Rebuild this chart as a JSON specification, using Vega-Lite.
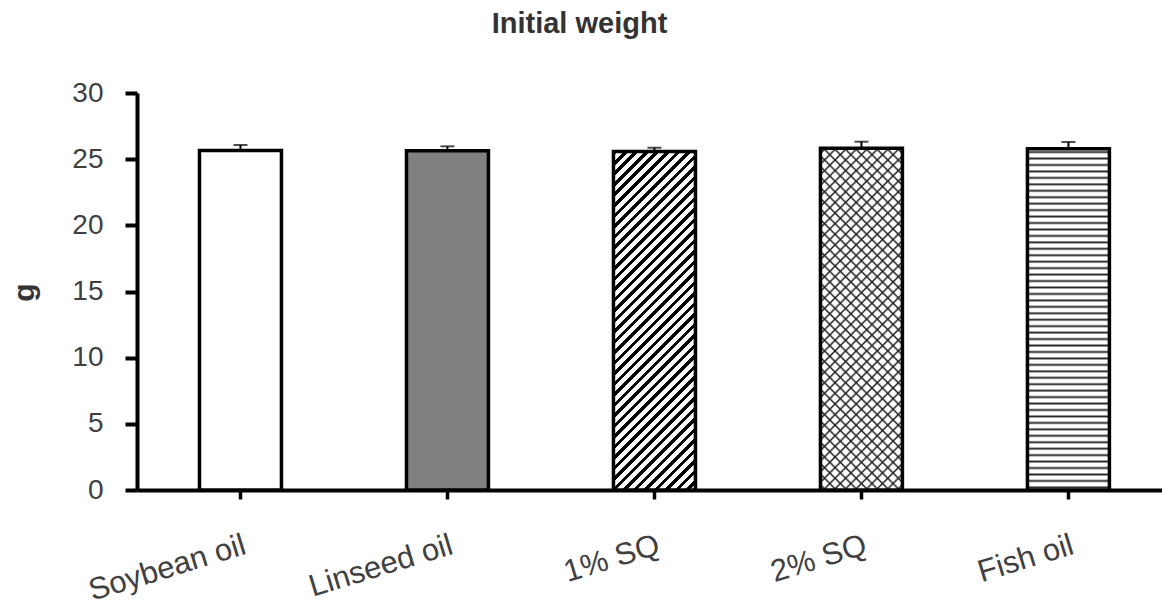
{
"$schema":"https://vega.github.io/schema/vega-lite/v6.json",
"width":1025,"height":397,
"autosize":{"type":"none"},
"padding":{"left":137,"top":93,"right":0,"bottom":117},
"background":"#ffffff",
"title":{"text":"Initial weight","fontSize":29,"fontWeight":"bold","color":"#333333","font":"Liberation Sans","anchor":"middle","frame":"group","dx":-70,"offset":17,"baseline":"alphabetic"},
"config":{"view":{"stroke":null},"font":"Liberation Sans"},
"data":{"values":[
{"diet":"Soybean oil","mean":25.66,"hi":26.07},
{"diet":"Linseed oil","mean":25.63,"hi":25.97},
{"diet":"1% SQ","mean":25.58,"hi":25.87},
{"diet":"2% SQ","mean":25.83,"hi":26.32},
{"diet":"Fish oil","mean":25.78,"hi":26.3}
]},
"encoding":{
"x":{"field":"diet","type":"nominal","sort":null,"title":null,
"scale":{"paddingInner":0.604,"paddingOuter":0.278,"align":0.543},
"axis":{"domainColor":"#000000","domainWidth":4,"tickColor":"#000000","tickWidth":3.5,"tickSize":9,"labelFontSize":31,"labelColor":"#404040","labelAngle":-17,"labelAlign":"right","labelBaseline":"top","labelPadding":31,"labelDx":-6,"labelLimit":400,"labelOverlap":false,"grid":false}},
"y":{"field":"mean","type":"quantitative","title":"g",
"scale":{"domain":[0,30],"nice":false,"zero":true},
"axis":{"values":[0,5,10,15,20,25,30],"domainColor":"#000000","domainWidth":4,"tickColor":"#000000","tickWidth":4,"tickSize":12,"labelFontSize":28,"labelColor":"#404040","labelPadding":22,"labelOverlap":false,"grid":false,"titleFontSize":30,"titleFontWeight":"bold","titleColor":"#333333","titleAngle":-90,"titleX":-104,"titleY":199,"titleAlign":"center","titleBaseline":"alphabetic"}}
},
"layer":[
{"transform":[{"filter":"datum.diet==='Soybean oil'"}],"mark":{"type":"bar","fill":"#ffffff"}},
{"transform":[{"filter":"datum.diet==='Linseed oil'"}],"mark":{"type":"bar","fill":"#808080"}},
{"transform":[{"filter":"datum.diet==='1% SQ'"}],"mark":{"type":"bar","fill":{"gradient":"linear","x1":0,"y1":0,"x2":0.284,"y2":1.173,"stops":[
{"offset":0,"color":"#000"},{"offset":0.011,"color":"#000"},{"offset":0.011,"color":"#fff"},{"offset":0.025,"color":"#fff"},
{"offset":0.025,"color":"#000"},{"offset":0.036,"color":"#000"},{"offset":0.036,"color":"#fff"},{"offset":0.05,"color":"#fff"},
{"offset":0.05,"color":"#000"},{"offset":0.061,"color":"#000"},{"offset":0.061,"color":"#fff"},{"offset":0.075,"color":"#fff"},
{"offset":0.075,"color":"#000"},{"offset":0.086,"color":"#000"},{"offset":0.086,"color":"#fff"},{"offset":0.1,"color":"#fff"},
{"offset":0.1,"color":"#000"},{"offset":0.111,"color":"#000"},{"offset":0.111,"color":"#fff"},{"offset":0.125,"color":"#fff"},
{"offset":0.125,"color":"#000"},{"offset":0.136,"color":"#000"},{"offset":0.136,"color":"#fff"},{"offset":0.15,"color":"#fff"},
{"offset":0.15,"color":"#000"},{"offset":0.161,"color":"#000"},{"offset":0.161,"color":"#fff"},{"offset":0.175,"color":"#fff"},
{"offset":0.175,"color":"#000"},{"offset":0.186,"color":"#000"},{"offset":0.186,"color":"#fff"},{"offset":0.2,"color":"#fff"},
{"offset":0.2,"color":"#000"},{"offset":0.211,"color":"#000"},{"offset":0.211,"color":"#fff"},{"offset":0.225,"color":"#fff"},
{"offset":0.225,"color":"#000"},{"offset":0.236,"color":"#000"},{"offset":0.236,"color":"#fff"},{"offset":0.25,"color":"#fff"},
{"offset":0.25,"color":"#000"},{"offset":0.261,"color":"#000"},{"offset":0.261,"color":"#fff"},{"offset":0.275,"color":"#fff"},
{"offset":0.275,"color":"#000"},{"offset":0.286,"color":"#000"},{"offset":0.286,"color":"#fff"},{"offset":0.3,"color":"#fff"},
{"offset":0.3,"color":"#000"},{"offset":0.311,"color":"#000"},{"offset":0.311,"color":"#fff"},{"offset":0.325,"color":"#fff"},
{"offset":0.325,"color":"#000"},{"offset":0.336,"color":"#000"},{"offset":0.336,"color":"#fff"},{"offset":0.35,"color":"#fff"},
{"offset":0.35,"color":"#000"},{"offset":0.361,"color":"#000"},{"offset":0.361,"color":"#fff"},{"offset":0.375,"color":"#fff"},
{"offset":0.375,"color":"#000"},{"offset":0.386,"color":"#000"},{"offset":0.386,"color":"#fff"},{"offset":0.4,"color":"#fff"},
{"offset":0.4,"color":"#000"},{"offset":0.411,"color":"#000"},{"offset":0.411,"color":"#fff"},{"offset":0.425,"color":"#fff"},
{"offset":0.425,"color":"#000"},{"offset":0.436,"color":"#000"},{"offset":0.436,"color":"#fff"},{"offset":0.45,"color":"#fff"},
{"offset":0.45,"color":"#000"},{"offset":0.461,"color":"#000"},{"offset":0.461,"color":"#fff"},{"offset":0.475,"color":"#fff"},
{"offset":0.475,"color":"#000"},{"offset":0.486,"color":"#000"},{"offset":0.486,"color":"#fff"},{"offset":0.5,"color":"#fff"},
{"offset":0.5,"color":"#000"},{"offset":0.511,"color":"#000"},{"offset":0.511,"color":"#fff"},{"offset":0.525,"color":"#fff"},
{"offset":0.525,"color":"#000"},{"offset":0.536,"color":"#000"},{"offset":0.536,"color":"#fff"},{"offset":0.55,"color":"#fff"},
{"offset":0.55,"color":"#000"},{"offset":0.561,"color":"#000"},{"offset":0.561,"color":"#fff"},{"offset":0.575,"color":"#fff"},
{"offset":0.575,"color":"#000"},{"offset":0.586,"color":"#000"},{"offset":0.586,"color":"#fff"},{"offset":0.6,"color":"#fff"},
{"offset":0.6,"color":"#000"},{"offset":0.611,"color":"#000"},{"offset":0.611,"color":"#fff"},{"offset":0.625,"color":"#fff"},
{"offset":0.625,"color":"#000"},{"offset":0.636,"color":"#000"},{"offset":0.636,"color":"#fff"},{"offset":0.65,"color":"#fff"},
{"offset":0.65,"color":"#000"},{"offset":0.661,"color":"#000"},{"offset":0.661,"color":"#fff"},{"offset":0.675,"color":"#fff"},
{"offset":0.675,"color":"#000"},{"offset":0.686,"color":"#000"},{"offset":0.686,"color":"#fff"},{"offset":0.7,"color":"#fff"},
{"offset":0.7,"color":"#000"},{"offset":0.711,"color":"#000"},{"offset":0.711,"color":"#fff"},{"offset":0.725,"color":"#fff"},
{"offset":0.725,"color":"#000"},{"offset":0.736,"color":"#000"},{"offset":0.736,"color":"#fff"},{"offset":0.75,"color":"#fff"},
{"offset":0.75,"color":"#000"},{"offset":0.761,"color":"#000"},{"offset":0.761,"color":"#fff"},{"offset":0.775,"color":"#fff"},
{"offset":0.775,"color":"#000"},{"offset":0.786,"color":"#000"},{"offset":0.786,"color":"#fff"},{"offset":0.8,"color":"#fff"},
{"offset":0.8,"color":"#000"},{"offset":0.811,"color":"#000"},{"offset":0.811,"color":"#fff"},{"offset":0.825,"color":"#fff"},
{"offset":0.825,"color":"#000"},{"offset":0.836,"color":"#000"},{"offset":0.836,"color":"#fff"},{"offset":0.85,"color":"#fff"},
{"offset":0.85,"color":"#000"},{"offset":0.861,"color":"#000"},{"offset":0.861,"color":"#fff"},{"offset":0.875,"color":"#fff"},
{"offset":0.875,"color":"#000"},{"offset":0.886,"color":"#000"},{"offset":0.886,"color":"#fff"},{"offset":0.9,"color":"#fff"},
{"offset":0.9,"color":"#000"},{"offset":0.911,"color":"#000"},{"offset":0.911,"color":"#fff"},{"offset":0.925,"color":"#fff"},
{"offset":0.925,"color":"#000"},{"offset":0.936,"color":"#000"},{"offset":0.936,"color":"#fff"},{"offset":0.95,"color":"#fff"},
{"offset":0.95,"color":"#000"},{"offset":0.961,"color":"#000"},{"offset":0.961,"color":"#fff"},{"offset":0.975,"color":"#fff"},
{"offset":0.975,"color":"#000"},{"offset":0.986,"color":"#000"},{"offset":0.986,"color":"#fff"},{"offset":1,"color":"#fff"}
]}}},
{"transform":[{"filter":"datum.diet==='2% SQ'"}],"mark":{"type":"bar","fill":{"gradient":"linear","x1":0,"y1":0,"x2":0.283,"y2":1.173,"stops":[
{"offset":0.0075,"color":"#fff"},{"offset":0.0125,"color":"#222"},{"offset":0.0175,"color":"#fff"},
{"offset":0.0325,"color":"#fff"},{"offset":0.0375,"color":"#222"},{"offset":0.0425,"color":"#fff"},
{"offset":0.0575,"color":"#fff"},{"offset":0.0625,"color":"#222"},{"offset":0.0675,"color":"#fff"},
{"offset":0.0825,"color":"#fff"},{"offset":0.0875,"color":"#222"},{"offset":0.0925,"color":"#fff"},
{"offset":0.1075,"color":"#fff"},{"offset":0.1125,"color":"#222"},{"offset":0.1175,"color":"#fff"},
{"offset":0.1325,"color":"#fff"},{"offset":0.1375,"color":"#222"},{"offset":0.1425,"color":"#fff"},
{"offset":0.1575,"color":"#fff"},{"offset":0.1625,"color":"#222"},{"offset":0.1675,"color":"#fff"},
{"offset":0.1825,"color":"#fff"},{"offset":0.1875,"color":"#222"},{"offset":0.1925,"color":"#fff"},
{"offset":0.2075,"color":"#fff"},{"offset":0.2125,"color":"#222"},{"offset":0.2175,"color":"#fff"},
{"offset":0.2325,"color":"#fff"},{"offset":0.2375,"color":"#222"},{"offset":0.2425,"color":"#fff"},
{"offset":0.2575,"color":"#fff"},{"offset":0.2625,"color":"#222"},{"offset":0.2675,"color":"#fff"},
{"offset":0.2825,"color":"#fff"},{"offset":0.2875,"color":"#222"},{"offset":0.2925,"color":"#fff"},
{"offset":0.3075,"color":"#fff"},{"offset":0.3125,"color":"#222"},{"offset":0.3175,"color":"#fff"},
{"offset":0.3325,"color":"#fff"},{"offset":0.3375,"color":"#222"},{"offset":0.3425,"color":"#fff"},
{"offset":0.3575,"color":"#fff"},{"offset":0.3625,"color":"#222"},{"offset":0.3675,"color":"#fff"},
{"offset":0.3825,"color":"#fff"},{"offset":0.3875,"color":"#222"},{"offset":0.3925,"color":"#fff"},
{"offset":0.4075,"color":"#fff"},{"offset":0.4125,"color":"#222"},{"offset":0.4175,"color":"#fff"},
{"offset":0.4325,"color":"#fff"},{"offset":0.4375,"color":"#222"},{"offset":0.4425,"color":"#fff"},
{"offset":0.4575,"color":"#fff"},{"offset":0.4625,"color":"#222"},{"offset":0.4675,"color":"#fff"},
{"offset":0.4825,"color":"#fff"},{"offset":0.4875,"color":"#222"},{"offset":0.4925,"color":"#fff"},
{"offset":0.5075,"color":"#fff"},{"offset":0.5125,"color":"#222"},{"offset":0.5175,"color":"#fff"},
{"offset":0.5325,"color":"#fff"},{"offset":0.5375,"color":"#222"},{"offset":0.5425,"color":"#fff"},
{"offset":0.5575,"color":"#fff"},{"offset":0.5625,"color":"#222"},{"offset":0.5675,"color":"#fff"},
{"offset":0.5825,"color":"#fff"},{"offset":0.5875,"color":"#222"},{"offset":0.5925,"color":"#fff"},
{"offset":0.6075,"color":"#fff"},{"offset":0.6125,"color":"#222"},{"offset":0.6175,"color":"#fff"},
{"offset":0.6325,"color":"#fff"},{"offset":0.6375,"color":"#222"},{"offset":0.6425,"color":"#fff"},
{"offset":0.6575,"color":"#fff"},{"offset":0.6625,"color":"#222"},{"offset":0.6675,"color":"#fff"},
{"offset":0.6825,"color":"#fff"},{"offset":0.6875,"color":"#222"},{"offset":0.6925,"color":"#fff"},
{"offset":0.7075,"color":"#fff"},{"offset":0.7125,"color":"#222"},{"offset":0.7175,"color":"#fff"},
{"offset":0.7325,"color":"#fff"},{"offset":0.7375,"color":"#222"},{"offset":0.7425,"color":"#fff"},
{"offset":0.7575,"color":"#fff"},{"offset":0.7625,"color":"#222"},{"offset":0.7675,"color":"#fff"},
{"offset":0.7825,"color":"#fff"},{"offset":0.7875,"color":"#222"},{"offset":0.7925,"color":"#fff"},
{"offset":0.8075,"color":"#fff"},{"offset":0.8125,"color":"#222"},{"offset":0.8175,"color":"#fff"},
{"offset":0.8325,"color":"#fff"},{"offset":0.8375,"color":"#222"},{"offset":0.8425,"color":"#fff"},
{"offset":0.8575,"color":"#fff"},{"offset":0.8625,"color":"#222"},{"offset":0.8675,"color":"#fff"},
{"offset":0.8825,"color":"#fff"},{"offset":0.8875,"color":"#222"},{"offset":0.8925,"color":"#fff"},
{"offset":0.9075,"color":"#fff"},{"offset":0.9125,"color":"#222"},{"offset":0.9175,"color":"#fff"},
{"offset":0.9325,"color":"#fff"},{"offset":0.9375,"color":"#222"},{"offset":0.9425,"color":"#fff"},
{"offset":0.9575,"color":"#fff"},{"offset":0.9625,"color":"#222"},{"offset":0.9675,"color":"#fff"},
{"offset":0.9825,"color":"#fff"},{"offset":0.9875,"color":"#222"},{"offset":0.9925,"color":"#fff"}
]}}},
{"transform":[{"filter":"datum.diet==='2% SQ'"}],"mark":{"type":"bar","fill":{"gradient":"linear","x1":0,"y1":1,"x2":0.283,"y2":-0.173,"stops":[
{"offset":0.0075,"color":"rgba(34,34,34,0)"},{"offset":0.0125,"color":"#222"},{"offset":0.0175,"color":"rgba(34,34,34,0)"},
{"offset":0.0325,"color":"rgba(34,34,34,0)"},{"offset":0.0375,"color":"#222"},{"offset":0.0425,"color":"rgba(34,34,34,0)"},
{"offset":0.0575,"color":"rgba(34,34,34,0)"},{"offset":0.0625,"color":"#222"},{"offset":0.0675,"color":"rgba(34,34,34,0)"},
{"offset":0.0825,"color":"rgba(34,34,34,0)"},{"offset":0.0875,"color":"#222"},{"offset":0.0925,"color":"rgba(34,34,34,0)"},
{"offset":0.1075,"color":"rgba(34,34,34,0)"},{"offset":0.1125,"color":"#222"},{"offset":0.1175,"color":"rgba(34,34,34,0)"},
{"offset":0.1325,"color":"rgba(34,34,34,0)"},{"offset":0.1375,"color":"#222"},{"offset":0.1425,"color":"rgba(34,34,34,0)"},
{"offset":0.1575,"color":"rgba(34,34,34,0)"},{"offset":0.1625,"color":"#222"},{"offset":0.1675,"color":"rgba(34,34,34,0)"},
{"offset":0.1825,"color":"rgba(34,34,34,0)"},{"offset":0.1875,"color":"#222"},{"offset":0.1925,"color":"rgba(34,34,34,0)"},
{"offset":0.2075,"color":"rgba(34,34,34,0)"},{"offset":0.2125,"color":"#222"},{"offset":0.2175,"color":"rgba(34,34,34,0)"},
{"offset":0.2325,"color":"rgba(34,34,34,0)"},{"offset":0.2375,"color":"#222"},{"offset":0.2425,"color":"rgba(34,34,34,0)"},
{"offset":0.2575,"color":"rgba(34,34,34,0)"},{"offset":0.2625,"color":"#222"},{"offset":0.2675,"color":"rgba(34,34,34,0)"},
{"offset":0.2825,"color":"rgba(34,34,34,0)"},{"offset":0.2875,"color":"#222"},{"offset":0.2925,"color":"rgba(34,34,34,0)"},
{"offset":0.3075,"color":"rgba(34,34,34,0)"},{"offset":0.3125,"color":"#222"},{"offset":0.3175,"color":"rgba(34,34,34,0)"},
{"offset":0.3325,"color":"rgba(34,34,34,0)"},{"offset":0.3375,"color":"#222"},{"offset":0.3425,"color":"rgba(34,34,34,0)"},
{"offset":0.3575,"color":"rgba(34,34,34,0)"},{"offset":0.3625,"color":"#222"},{"offset":0.3675,"color":"rgba(34,34,34,0)"},
{"offset":0.3825,"color":"rgba(34,34,34,0)"},{"offset":0.3875,"color":"#222"},{"offset":0.3925,"color":"rgba(34,34,34,0)"},
{"offset":0.4075,"color":"rgba(34,34,34,0)"},{"offset":0.4125,"color":"#222"},{"offset":0.4175,"color":"rgba(34,34,34,0)"},
{"offset":0.4325,"color":"rgba(34,34,34,0)"},{"offset":0.4375,"color":"#222"},{"offset":0.4425,"color":"rgba(34,34,34,0)"},
{"offset":0.4575,"color":"rgba(34,34,34,0)"},{"offset":0.4625,"color":"#222"},{"offset":0.4675,"color":"rgba(34,34,34,0)"},
{"offset":0.4825,"color":"rgba(34,34,34,0)"},{"offset":0.4875,"color":"#222"},{"offset":0.4925,"color":"rgba(34,34,34,0)"},
{"offset":0.5075,"color":"rgba(34,34,34,0)"},{"offset":0.5125,"color":"#222"},{"offset":0.5175,"color":"rgba(34,34,34,0)"},
{"offset":0.5325,"color":"rgba(34,34,34,0)"},{"offset":0.5375,"color":"#222"},{"offset":0.5425,"color":"rgba(34,34,34,0)"},
{"offset":0.5575,"color":"rgba(34,34,34,0)"},{"offset":0.5625,"color":"#222"},{"offset":0.5675,"color":"rgba(34,34,34,0)"},
{"offset":0.5825,"color":"rgba(34,34,34,0)"},{"offset":0.5875,"color":"#222"},{"offset":0.5925,"color":"rgba(34,34,34,0)"},
{"offset":0.6075,"color":"rgba(34,34,34,0)"},{"offset":0.6125,"color":"#222"},{"offset":0.6175,"color":"rgba(34,34,34,0)"},
{"offset":0.6325,"color":"rgba(34,34,34,0)"},{"offset":0.6375,"color":"#222"},{"offset":0.6425,"color":"rgba(34,34,34,0)"},
{"offset":0.6575,"color":"rgba(34,34,34,0)"},{"offset":0.6625,"color":"#222"},{"offset":0.6675,"color":"rgba(34,34,34,0)"},
{"offset":0.6825,"color":"rgba(34,34,34,0)"},{"offset":0.6875,"color":"#222"},{"offset":0.6925,"color":"rgba(34,34,34,0)"},
{"offset":0.7075,"color":"rgba(34,34,34,0)"},{"offset":0.7125,"color":"#222"},{"offset":0.7175,"color":"rgba(34,34,34,0)"},
{"offset":0.7325,"color":"rgba(34,34,34,0)"},{"offset":0.7375,"color":"#222"},{"offset":0.7425,"color":"rgba(34,34,34,0)"},
{"offset":0.7575,"color":"rgba(34,34,34,0)"},{"offset":0.7625,"color":"#222"},{"offset":0.7675,"color":"rgba(34,34,34,0)"},
{"offset":0.7825,"color":"rgba(34,34,34,0)"},{"offset":0.7875,"color":"#222"},{"offset":0.7925,"color":"rgba(34,34,34,0)"},
{"offset":0.8075,"color":"rgba(34,34,34,0)"},{"offset":0.8125,"color":"#222"},{"offset":0.8175,"color":"rgba(34,34,34,0)"},
{"offset":0.8325,"color":"rgba(34,34,34,0)"},{"offset":0.8375,"color":"#222"},{"offset":0.8425,"color":"rgba(34,34,34,0)"},
{"offset":0.8575,"color":"rgba(34,34,34,0)"},{"offset":0.8625,"color":"#222"},{"offset":0.8675,"color":"rgba(34,34,34,0)"},
{"offset":0.8825,"color":"rgba(34,34,34,0)"},{"offset":0.8875,"color":"#222"},{"offset":0.8925,"color":"rgba(34,34,34,0)"},
{"offset":0.9075,"color":"rgba(34,34,34,0)"},{"offset":0.9125,"color":"#222"},{"offset":0.9175,"color":"rgba(34,34,34,0)"},
{"offset":0.9325,"color":"rgba(34,34,34,0)"},{"offset":0.9375,"color":"#222"},{"offset":0.9425,"color":"rgba(34,34,34,0)"},
{"offset":0.9575,"color":"rgba(34,34,34,0)"},{"offset":0.9625,"color":"#222"},{"offset":0.9675,"color":"rgba(34,34,34,0)"},
{"offset":0.9825,"color":"rgba(34,34,34,0)"},{"offset":0.9875,"color":"#222"},{"offset":0.9925,"color":"rgba(34,34,34,0)"}
]}}},
{"transform":[{"filter":"datum.diet==='Fish oil'"}],"mark":{"type":"bar","fill":{"gradient":"linear","x1":0,"y1":0,"x2":0,"y2":1,"stops":[
{"offset":0.004,"color":"#fff"},{"offset":0.0095,"color":"#222"},{"offset":0.015,"color":"#fff"},
{"offset":0.0229,"color":"#fff"},{"offset":0.0284,"color":"#222"},{"offset":0.0339,"color":"#fff"},
{"offset":0.0418,"color":"#fff"},{"offset":0.0473,"color":"#222"},{"offset":0.0528,"color":"#fff"},
{"offset":0.0607,"color":"#fff"},{"offset":0.0662,"color":"#222"},{"offset":0.0717,"color":"#fff"},
{"offset":0.0796,"color":"#fff"},{"offset":0.0851,"color":"#222"},{"offset":0.0906,"color":"#fff"},
{"offset":0.0985,"color":"#fff"},{"offset":0.104,"color":"#222"},{"offset":0.1095,"color":"#fff"},
{"offset":0.1174,"color":"#fff"},{"offset":0.1229,"color":"#222"},{"offset":0.1284,"color":"#fff"},
{"offset":0.1363,"color":"#fff"},{"offset":0.1418,"color":"#222"},{"offset":0.1473,"color":"#fff"},
{"offset":0.1552,"color":"#fff"},{"offset":0.1607,"color":"#222"},{"offset":0.1662,"color":"#fff"},
{"offset":0.1741,"color":"#fff"},{"offset":0.1796,"color":"#222"},{"offset":0.1851,"color":"#fff"},
{"offset":0.193,"color":"#fff"},{"offset":0.1985,"color":"#222"},{"offset":0.204,"color":"#fff"},
{"offset":0.2119,"color":"#fff"},{"offset":0.2174,"color":"#222"},{"offset":0.2229,"color":"#fff"},
{"offset":0.2308,"color":"#fff"},{"offset":0.2363,"color":"#222"},{"offset":0.2418,"color":"#fff"},
{"offset":0.2497,"color":"#fff"},{"offset":0.2552,"color":"#222"},{"offset":0.2607,"color":"#fff"},
{"offset":0.2686,"color":"#fff"},{"offset":0.2741,"color":"#222"},{"offset":0.2796,"color":"#fff"},
{"offset":0.2875,"color":"#fff"},{"offset":0.293,"color":"#222"},{"offset":0.2985,"color":"#fff"},
{"offset":0.3064,"color":"#fff"},{"offset":0.3119,"color":"#222"},{"offset":0.3174,"color":"#fff"},
{"offset":0.3253,"color":"#fff"},{"offset":0.3308,"color":"#222"},{"offset":0.3363,"color":"#fff"},
{"offset":0.3442,"color":"#fff"},{"offset":0.3497,"color":"#222"},{"offset":0.3552,"color":"#fff"},
{"offset":0.3631,"color":"#fff"},{"offset":0.3686,"color":"#222"},{"offset":0.3741,"color":"#fff"},
{"offset":0.382,"color":"#fff"},{"offset":0.3875,"color":"#222"},{"offset":0.393,"color":"#fff"},
{"offset":0.4009,"color":"#fff"},{"offset":0.4064,"color":"#222"},{"offset":0.4119,"color":"#fff"},
{"offset":0.4198,"color":"#fff"},{"offset":0.4253,"color":"#222"},{"offset":0.4308,"color":"#fff"},
{"offset":0.4387,"color":"#fff"},{"offset":0.4442,"color":"#222"},{"offset":0.4497,"color":"#fff"},
{"offset":0.4576,"color":"#fff"},{"offset":0.4631,"color":"#222"},{"offset":0.4686,"color":"#fff"},
{"offset":0.4765,"color":"#fff"},{"offset":0.482,"color":"#222"},{"offset":0.4875,"color":"#fff"},
{"offset":0.4954,"color":"#fff"},{"offset":0.5009,"color":"#222"},{"offset":0.5064,"color":"#fff"},
{"offset":0.5143,"color":"#fff"},{"offset":0.5198,"color":"#222"},{"offset":0.5253,"color":"#fff"},
{"offset":0.5332,"color":"#fff"},{"offset":0.5387,"color":"#222"},{"offset":0.5442,"color":"#fff"},
{"offset":0.5521,"color":"#fff"},{"offset":0.5576,"color":"#222"},{"offset":0.5631,"color":"#fff"},
{"offset":0.571,"color":"#fff"},{"offset":0.5765,"color":"#222"},{"offset":0.582,"color":"#fff"},
{"offset":0.5899,"color":"#fff"},{"offset":0.5954,"color":"#222"},{"offset":0.6009,"color":"#fff"},
{"offset":0.6088,"color":"#fff"},{"offset":0.6143,"color":"#222"},{"offset":0.6198,"color":"#fff"},
{"offset":0.6277,"color":"#fff"},{"offset":0.6332,"color":"#222"},{"offset":0.6387,"color":"#fff"},
{"offset":0.6466,"color":"#fff"},{"offset":0.6521,"color":"#222"},{"offset":0.6576,"color":"#fff"},
{"offset":0.6655,"color":"#fff"},{"offset":0.671,"color":"#222"},{"offset":0.6765,"color":"#fff"},
{"offset":0.6844,"color":"#fff"},{"offset":0.6899,"color":"#222"},{"offset":0.6954,"color":"#fff"},
{"offset":0.7033,"color":"#fff"},{"offset":0.7088,"color":"#222"},{"offset":0.7143,"color":"#fff"},
{"offset":0.7222,"color":"#fff"},{"offset":0.7277,"color":"#222"},{"offset":0.7332,"color":"#fff"},
{"offset":0.7411,"color":"#fff"},{"offset":0.7466,"color":"#222"},{"offset":0.7521,"color":"#fff"},
{"offset":0.76,"color":"#fff"},{"offset":0.7655,"color":"#222"},{"offset":0.771,"color":"#fff"},
{"offset":0.7789,"color":"#fff"},{"offset":0.7844,"color":"#222"},{"offset":0.7899,"color":"#fff"},
{"offset":0.7978,"color":"#fff"},{"offset":0.8033,"color":"#222"},{"offset":0.8088,"color":"#fff"},
{"offset":0.8167,"color":"#fff"},{"offset":0.8222,"color":"#222"},{"offset":0.8277,"color":"#fff"},
{"offset":0.8356,"color":"#fff"},{"offset":0.8411,"color":"#222"},{"offset":0.8466,"color":"#fff"},
{"offset":0.8545,"color":"#fff"},{"offset":0.86,"color":"#222"},{"offset":0.8655,"color":"#fff"},
{"offset":0.8734,"color":"#fff"},{"offset":0.8789,"color":"#222"},{"offset":0.8844,"color":"#fff"},
{"offset":0.8923,"color":"#fff"},{"offset":0.8978,"color":"#222"},{"offset":0.9033,"color":"#fff"},
{"offset":0.9112,"color":"#fff"},{"offset":0.9167,"color":"#222"},{"offset":0.9222,"color":"#fff"},
{"offset":0.9301,"color":"#fff"},{"offset":0.9356,"color":"#222"},{"offset":0.9411,"color":"#fff"},
{"offset":0.949,"color":"#fff"},{"offset":0.9545,"color":"#222"},{"offset":0.96,"color":"#fff"},
{"offset":0.9679,"color":"#fff"},{"offset":0.9734,"color":"#222"},{"offset":0.9789,"color":"#fff"},
{"offset":0.9868,"color":"#fff"},{"offset":0.9923,"color":"#222"},{"offset":0.9978,"color":"#fff"}
]}}},
{"mark":{"type":"bar","fillOpacity":0,"stroke":"#000000","strokeWidth":3.5}},
{"mark":{"type":"rule","color":"#000000","strokeWidth":2},"encoding":{"y2":{"field":"hi"}}},
{"mark":{"type":"tick","color":"#000000","thickness":2,"size":14},"encoding":{"y":{"field":"hi","type":"quantitative","title":"g"}}}
]
}
